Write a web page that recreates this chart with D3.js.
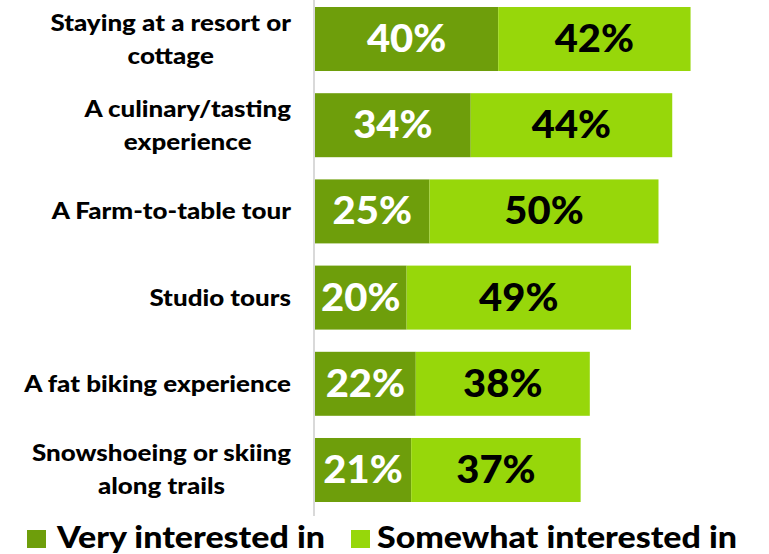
<!DOCTYPE html>
<html>
<head>
<meta charset="utf-8">
<script src="https://cdn.jsdelivr.net/npm/d3@7"></script>
<style>
  html, body { margin: 0; padding: 0; background: #fff; }
  svg { display: block; }
  text { font-family: Lato, "Open Sans", sans-serif; }
</style>
</head>
<body>
<svg id="chart" width="769" height="554"></svg>
<script>
// Activities and share of respondents interested in each
const categories = [
  "Staying at a resort or\ncottage",
  "A culinary/tasting\nexperience",
  "A Farm-to-table tour",
  "Studio tours",
  "A fat biking experience",
  "Snowshoeing or skiing\nalong trails"
];
const veryInterested = [40, 34, 25, 20, 22, 21];
const somewhatInterested = [42, 44, 50, 49, 38, 37];
const seriesNames = ["Very interested in", "Somewhat interested in"];
const seriesColors = ["#6e9e0b", "#97d70a"];
const labelColors = ["#ffffff", "#000000"];

const svg = d3.select("#chart");
const axisX = 315;

const rows = categories.map((c, i) => ({
  cat: c,
  very: veryInterested[i],
  somewhat: somewhatInterested[i]
}));

const x = d3.scaleLinear().domain([0, 100]).range([axisX, axisX + 458]);
const y = d3.scaleBand()
  .domain(categories)
  .range([-4.2, 513.2])
  .paddingInner(0.2575)
  .paddingOuter(0.13);

const stack = d3.stack().keys(["very", "somewhat"]);
const layers = stack(rows);

// widen heavy text a little beyond the font's natural width
function stretch(sel, factor) {
  sel.each(function () {
    const w = this.getComputedTextLength();
    d3.select(this)
      .attr("textLength", w * factor)
      .attr("lengthAdjust", "spacingAndGlyphs");
  });
}

// stacked bars
const g = svg.append("g");
layers.forEach((layer, li) => {
  g.selectAll(null)
    .data(layer)
    .join("rect")
    .attr("x", d => x(d[0]))
    .attr("y", d => y(d.data.cat))
    .attr("width", d => x(d[1]) - x(d[0]))
    .attr("height", y.bandwidth())
    .attr("fill", seriesColors[li]);

  const vals = g.selectAll(null)
    .data(layer)
    .join("text")
    .attr("x", d => (x(d[0]) + x(d[1])) / 2)
    .attr("y", d => y(d.data.cat) + y.bandwidth() / 2 + 13)
    .attr("text-anchor", "middle")
    .attr("font-size", 37)
    .attr("font-weight", 900)
    .attr("fill", labelColors[li])
    .text(d => (d[1] - d[0]) + "%");
  stretch(vals, 1.08);
});

// vertical category axis line
svg.append("line")
  .attr("x1", axisX - 1).attr("x2", axisX - 1)
  .attr("y1", 0).attr("y2", 516)
  .attr("stroke", "#d9d9d9")
  .attr("stroke-width", 2);

// category labels: multi-line blocks, centred lines, block right-aligned
const labelRight = 291;
const lineGap = 33;
const labelStretch = 1.18;
categories.forEach(cat => {
  const lines = cat.split("\n");
  const t = svg.append("text")
    .attr("font-size", 22)
    .attr("font-weight", 900)
    .attr("fill", "#000");
  const cy = y(cat) + y.bandwidth() / 2;
  const firstBase = cy + 8 - (lines.length - 1) * lineGap / 2;
  const spans = lines.map((ln, k) => t.append("tspan")
    .attr("y", firstBase + k * lineGap)
    .text(ln));
  const widths = spans.map(s => s.node().getComputedTextLength() * labelStretch);
  const maxW = d3.max(widths);
  const centre = labelRight - maxW / 2;
  spans.forEach((s, k) => s
    .attr("x", centre)
    .attr("text-anchor", "middle")
    .attr("textLength", widths[k])
    .attr("lengthAdjust", "spacingAndGlyphs"));
});

// legend
const legendItems = [
  { name: seriesNames[0], color: seriesColors[0], sx: 27, tx: 57, tw: 268 },
  { name: seriesNames[1], color: seriesColors[1], sx: 351, tx: 377, tw: 360 }
];
const lg = svg.append("g");
legendItems.forEach(it => {
  lg.append("rect")
    .attr("x", it.sx).attr("y", 530)
    .attr("width", 19).attr("height", 18)
    .attr("fill", it.color);
  lg.append("text")
    .attr("x", it.tx).attr("y", 548)
    .attr("font-size", 31)
    .attr("font-weight", 900)
    .attr("fill", "#000")
    .attr("textLength", it.tw)
    .attr("lengthAdjust", "spacingAndGlyphs")
    .text(it.name);
});
</script>
</body>
</html>
